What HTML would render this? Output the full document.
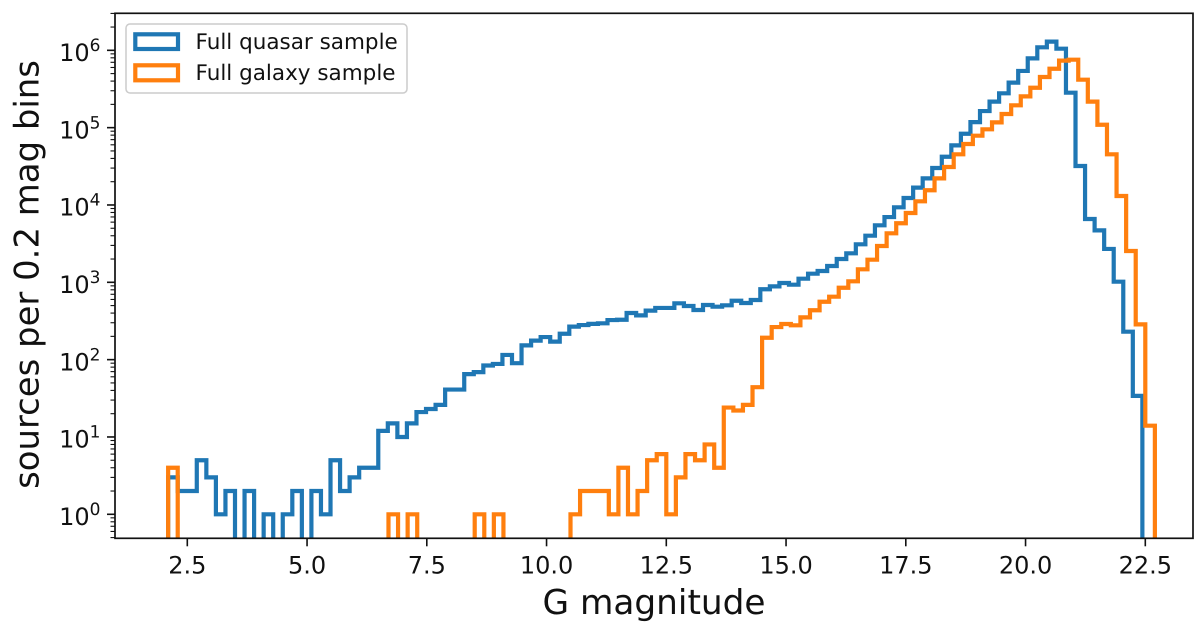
<!DOCTYPE html>
<html>
<head>
<meta charset="utf-8">
<style>
html,body{margin:0;padding:0;background:#fff;}
svg{display:block;}
text{font-family:"DejaVu Sans","Liberation Sans",sans-serif;fill:#111;text-rendering:geometricPrecision;}
</style>
</head>
<body>
<svg id="chart" xmlns="http://www.w3.org/2000/svg" width="1200" height="624" viewBox="0 0 1200 624">
  <defs>
    <clipPath id="plot-clip"><rect x="115" y="13.3" width="1078" height="525"/></clipPath>
  </defs>
  <rect x="115" y="13.3" width="1078" height="525" fill="#fff"/>
  <g id="series" clip-path="url(#plot-clip)"></g>
  <g id="ticks"></g>
  <rect x="115" y="13.3" width="1078" height="525" fill="none" stroke="#111" stroke-width="1.7"/>
  <text x="654" y="614" font-size="34.3" text-anchor="middle">G magnitude</text>
  <text transform="translate(38.3,274.5) rotate(-90)" font-size="33.9" text-anchor="middle">sources per 0.2 mag bins</text>
  <g>
    <rect x="126" y="24" width="281" height="69" rx="4" fill="#fff" fill-opacity="0.8" stroke="#ccc" stroke-width="1.5"/>
    <rect x="135.3" y="34.3" width="42.7" height="14.7" fill="none" stroke="#1f77b4" stroke-width="4.2"/>
    <text x="195.5" y="49" font-size="21.5">Full quasar sample</text>
    <rect x="135.3" y="65.3" width="42.7" height="15" fill="none" stroke="#ff7f0e" stroke-width="4.2"/>
    <text x="195.5" y="80" font-size="21.5">Full galaxy sample</text>
  </g>
</svg>
<script>
const xTickValues = [2.5, 5.0, 7.5, 10.0, 12.5, 15.0, 17.5, 20.0, 22.5];
const xTickLabels = ["2.5", "5.0", "7.5", "10.0", "12.5", "15.0", "17.5", "20.0", "22.5"];
const yTickExponents = [0, 1, 2, 3, 4, 5, 6];
const yMinorMultipliers = [2, 3, 4, 5, 6, 7, 8, 9];
const quasarBinStart = 2.1;
const quasarBinWidth = 0.1994;
const galaxyBinStart = 2.1;
const galaxyBinWidth = 0.2;
const quasarCounts = [
  3, 2, 2, 5, 3, 1, 2, 0, 2, 0,
  1, 0, 1, 2, 0, 2, 1, 5, 2, 3,
  4, 4, 12, 15, 10, 15, 21, 23, 26, 41,
  41, 65, 69, 84, 88, 115, 90, 153, 176, 196,
  171, 216, 267, 280, 290, 295, 325, 328, 401, 374,
  430, 466, 466, 535, 494, 438, 509, 484, 504, 578,
  540, 590, 813, 887, 979, 931, 1114, 1292, 1400, 1626,
  2000, 2370, 3100, 4010, 5460, 6980, 9330, 12300, 16750, 22100,
  30100, 42000, 59000, 83400, 118000, 164000, 217000, 278000, 382000, 541000,
  787000, 1094000, 1294000, 1050000, 283000, 31900, 6590, 4700, 2700, 1018,
  230, 34
];
const galaxyCounts = [
  4, 0, 0, 0, 0, 0, 0, 0, 0, 0,
  0, 0, 0, 0, 0, 0, 0, 0, 0, 0,
  0, 0, 0, 1, 0, 1, 0, 0, 0, 0,
  0, 0, 1, 0, 1, 0, 0, 0, 0, 0,
  0, 0, 1, 2, 2, 2, 1, 4, 1, 2,
  5, 6, 1, 3, 6, 5, 8, 4, 24, 22,
  26, 44, 192, 264, 289, 278, 352, 435, 561, 652,
  851, 1030, 1472, 1960, 2950, 4300, 5800, 7870, 11150, 15500,
  22100, 31000, 45200, 61500, 78700, 95200, 117000, 150000, 194500, 254000,
  328000, 452000, 578000, 735000, 757000, 417000, 217000, 109000, 45200, 13060,
  2540, 286, 14
];

const NS = "http://www.w3.org/2000/svg";
const PLOT_LEFT = 115, PLOT_RIGHT = 1193, PLOT_TOP = 13.3, PLOT_BOTTOM = 538.3;
function xScale(v) { return 187.3 + 47.9 * (v - 2.5); }
function yScale(c) { return 514.3 - 77.33 * Math.log10(c); }

function stepPath(counts, start, width) {
  const below = PLOT_BOTTOM + 12;
  let d = "M" + xScale(start).toFixed(2) + " " + below;
  counts.forEach(function (c, i) {
    const y = c > 0 ? yScale(c) : below;
    d += "V" + y.toFixed(2) + "H" + xScale(start + (i + 1) * width).toFixed(2);
  });
  return d + "V" + below;
}

const seriesGroup = document.getElementById("series");
const tickGroup = document.getElementById("ticks");

const quasarLine = document.createElementNS(NS, "path");


quasarLine.setAttribute("d", stepPath(quasarCounts, quasarBinStart, quasarBinWidth));
quasarLine.setAttribute("fill", "none");
quasarLine.setAttribute("stroke", "#1f77b4");
quasarLine.setAttribute("stroke-width", "4.2");
seriesGroup.appendChild(quasarLine);

const galaxyLine = document.createElementNS(NS, "path");


galaxyLine.setAttribute("d", stepPath(galaxyCounts, galaxyBinStart, galaxyBinWidth));
galaxyLine.setAttribute("fill", "none");
galaxyLine.setAttribute("stroke", "#ff7f0e");
galaxyLine.setAttribute("stroke-width", "4.2");
seriesGroup.appendChild(galaxyLine);

function drawTick(x1, y1, x2, y2, w, name) {
  const t = document.createElementNS(NS, "line");
  
  
  t.setAttribute("x1", x1);
  t.setAttribute("y1", y1);
  t.setAttribute("x2", x2);
  t.setAttribute("y2", y2);
  t.setAttribute("stroke", "#111");
  t.setAttribute("stroke-width", w);
  tickGroup.appendChild(t);
}

xTickValues.forEach(function (v, i) {
  const px = xScale(v);
  drawTick(px, PLOT_BOTTOM, px, PLOT_BOTTOM + 8, 1.6, "x-tick");
  const label = document.createElementNS(NS, "text");
  
  
  label.setAttribute("x", px);
  label.setAttribute("y", 573.5);
  label.setAttribute("font-size", "24");
  label.setAttribute("text-anchor", "middle");
  label.textContent = xTickLabels[i];
  tickGroup.appendChild(label);
});

yTickExponents.forEach(function (e) {
  const py = yScale(Math.pow(10, e));
  drawTick(PLOT_LEFT - 8, py, PLOT_LEFT, py, 1.6, "y-tick");
  const label = document.createElementNS(NS, "text");
  
  
  label.setAttribute("x", 100.5);
  label.setAttribute("y", py + 10.7);
  label.setAttribute("font-size", "24");
  label.setAttribute("text-anchor", "end");
  const base = document.createElementNS(NS, "tspan");
  base.textContent = "10";
  label.appendChild(base);
  const sup = document.createElementNS(NS, "tspan");
  sup.setAttribute("font-size", "17");
  sup.setAttribute("dy", "-10");
  sup.textContent = String(e);
  label.appendChild(sup);
  tickGroup.appendChild(label);
});

[-1, 0, 1, 2, 3, 4, 5, 6].forEach(function (e) {
  yMinorMultipliers.forEach(function (m) {
    const py = yScale(m * Math.pow(10, e));
    if (py >= PLOT_TOP && py <= PLOT_BOTTOM) {
      drawTick(PLOT_LEFT - 4.5, py, PLOT_LEFT, py, 1.1, "y-minor-tick");
    }
  });
});
</script>
</body>
</html>
